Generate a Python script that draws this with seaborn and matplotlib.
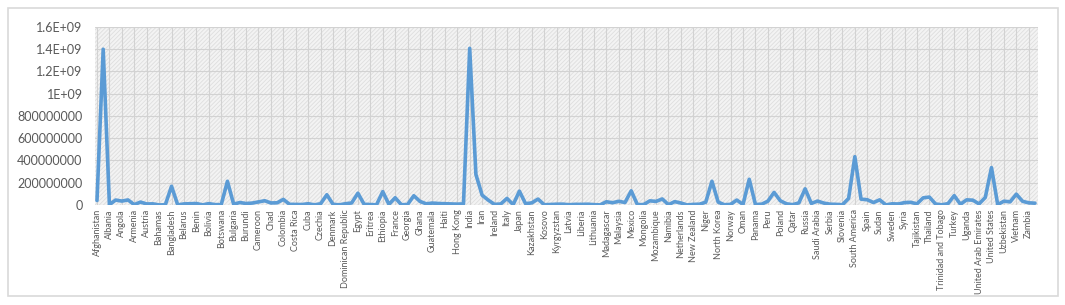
import numpy as np
import pandas as pd
import seaborn as sns
from matplotlib import pyplot as plt
from matplotlib.patches import Rectangle

countries = [
    "Afghanistan", "Africa", "Albania", "Algeria", "Angola", "Argentina", "Armenia", "Australia",
    "Austria", "Azerbaijan", "Bahamas", "Bahrain", "Bangladesh", "Barbados", "Belarus", "Belgium",
    "Benin", "Bhutan", "Bolivia", "Bosnia and Herzegovina", "Botswana", "Brazil", "Bulgaria", "Burkina Faso",
    "Burundi", "Cambodia", "Cameroon", "Canada", "Chad", "Chile", "Colombia", "Congo",
    "Costa Rica", "Croatia", "Cuba", "Cyprus", "Czechia", "Democratic Republic of Congo", "Denmark", "Djibouti",
    "Dominican Republic", "Ecuador", "Egypt", "El Salvador", "Eritrea", "Estonia", "Ethiopia", "Finland",
    "France", "Gabon", "Georgia", "Germany", "Ghana", "Greece", "Guatemala", "Guinea",
    "Haiti", "Honduras", "Hong Kong", "Hungary", "India", "Indonesia", "Iran", "Iraq",
    "Ireland", "Israel", "Italy", "Jamaica", "Japan", "Jordan", "Kazakhstan", "Kenya",
    "Kosovo", "Kuwait", "Kyrgyzstan", "Laos", "Latvia", "Lebanon", "Liberia", "Libya",
    "Lithuania", "Luxembourg", "Madagascar", "Malawi", "Malaysia", "Mali", "Mexico", "Moldova",
    "Mongolia", "Morocco", "Mozambique", "Myanmar", "Namibia", "Nepal", "Netherlands", "New Caledonia",
    "New Zealand", "Nicaragua", "Niger", "Nigeria", "North Korea", "North Macedonia", "Norway", "Oceania",
    "Oman", "Pakistan", "Panama", "Paraguay", "Peru", "Philippines", "Poland", "Portugal",
    "Qatar", "Romania", "Russia", "Rwanda", "Saudi Arabia", "Senegal", "Serbia", "Slovakia",
    "Slovenia", "South Africa", "South America", "South Korea", "Spain", "Sri Lanka", "Sudan", "Suriname",
    "Sweden", "Switzerland", "Syria", "Taiwan", "Tajikistan", "Tanzania", "Thailand", "Togo",
    "Trinidad and Tobago", "Tunisia", "Turkey", "Turkmenistan", "Uganda", "Ukraine", "United Arab Emirates", "United Kingdom",
    "United States", "Uruguay", "Uzbekistan", "Venezuela", "Vietnam", "Yemen", "Zambia", "Zimbabwe",
]

population = [
    40e6, 1400e6, 2.8e6, 44e6, 35e6, 45e6, 2.8e6, 26e6,
    9e6, 10e6, 0.4e6, 1.5e6, 168e6, 0.3e6, 9.5e6, 11.6e6,
    13e6, 0.8e6, 12e6, 3.2e6, 2.6e6, 213e6, 6.8e6, 22e6,
    13e6, 17e6, 28e6, 38e6, 18e6, 19.5e6, 50e6, 5.8e6,
    5.1e6, 4e6, 11e6, 1.2e6, 10.5e6, 92e6, 5.8e6, 1.1e6,
    11e6, 18e6, 106e6, 6.3e6, 3.6e6, 1.3e6, 120e6, 5.5e6,
    65e6, 2.3e6, 3.8e6, 83e6, 32e6, 10.4e6, 17e6, 13e6,
    11.4e6, 10e6, 7.4e6, 9.7e6, 1408e6, 274e6, 88e6, 43e6,
    5e6, 9e6, 59e6, 2.8e6, 124e6, 11e6, 19e6, 53e6,
    1.8e6, 4.3e6, 6.7e6, 7.3e6, 1.9e6, 5.6e6, 5.1e6, 6.8e6,
    2.8e6, 0.6e6, 29e6, 20e6, 33e6, 22e6, 127e6, 3e6,
    3.3e6, 37e6, 32e6, 54e6, 2.5e6, 30e6, 17.5e6, 0.3e6,
    5.1e6, 6.8e6, 25e6, 213e6, 26e6, 2.1e6, 5.4e6, 44e6,
    4.5e6, 231e6, 4.4e6, 6.7e6, 34e6, 113e6, 38e6, 10.3e6,
    2.7e6, 19e6, 145e6, 13.5e6, 35e6, 17e6, 7e6, 5.4e6,
    2.1e6, 59e6, 434e6, 52e6, 47e6, 22e6, 46e6, 0.6e6,
    10.4e6, 8.7e6, 21e6, 23.8e6, 9.8e6, 64e6, 71e6, 8.6e6,
    1.5e6, 12e6, 84e6, 6.3e6, 46e6, 43e6, 9.4e6, 67e6,
    336e6, 3.4e6, 34e6, 28e6, 97e6, 33e6, 19e6, 16e6,
]

ytick_values = [0, 200e6, 400e6, 600e6, 800e6, 1000e6, 1200e6, 1400e6, 1600e6]
ytick_labels = ["0", "200000000", "400000000", "600000000", "800000000",
                "1E+09", "1.2E+09", "1.4E+09", "1.6E+09"]

df = pd.DataFrame({"pos": np.arange(len(countries)), "Country": countries, "Population": population})

sns.set_style("white")
plt.rcParams['font.family'] = ['Lato', 'DejaVu Sans']
plt.rcParams['hatch.linewidth'] = 0.6

fig = plt.figure(figsize=(10.65, 3.05), dpi=100)
ax = fig.add_axes([0.0892, 0.328, 0.8854, 0.5836])

# patterned plot area, excel style
ax.add_patch(Rectangle((0, 0), 1, 1, transform=ax.transAxes, facecolor='#f3f3f3',
                       edgecolor='#dedede', hatch='////////', linewidth=0, zorder=0))
ax.set_facecolor('#f3f3f3')

sns.lineplot(data=df, x="pos", y="Population", ax=ax, color='#5b9bd5', linewidth=2.6, zorder=3)

ax.set_xlim(-0.32, 151.48)
ax.set_ylim(0, 1.6e9)
ax.set_yticks(ytick_values)
ax.set_yticklabels(ytick_labels)
ax.set_xticks(df["pos"][::2])
ax.set_xticklabels(df["Country"][::2], rotation=90)
ax.tick_params(axis='x', length=0, labelsize=6.5, labelcolor='#595959', pad=3)
ax.tick_params(axis='y', length=0, labelsize=9, labelcolor='#595959', pad=9)
ax.grid(True, color='#d2d2d2', linewidth=0.8)
ax.set_axisbelow(True)
ax.set_xlabel("")
ax.set_ylabel("")
for s in ax.spines.values():
    s.set_visible(False)

fig.patches.append(Rectangle((0.0075, 0.03), 0.986, 0.944, transform=fig.transFigure,
                             facecolor='none', edgecolor='#d9d9d9', linewidth=1.2))

plt.savefig("out.png", dpi=100)
